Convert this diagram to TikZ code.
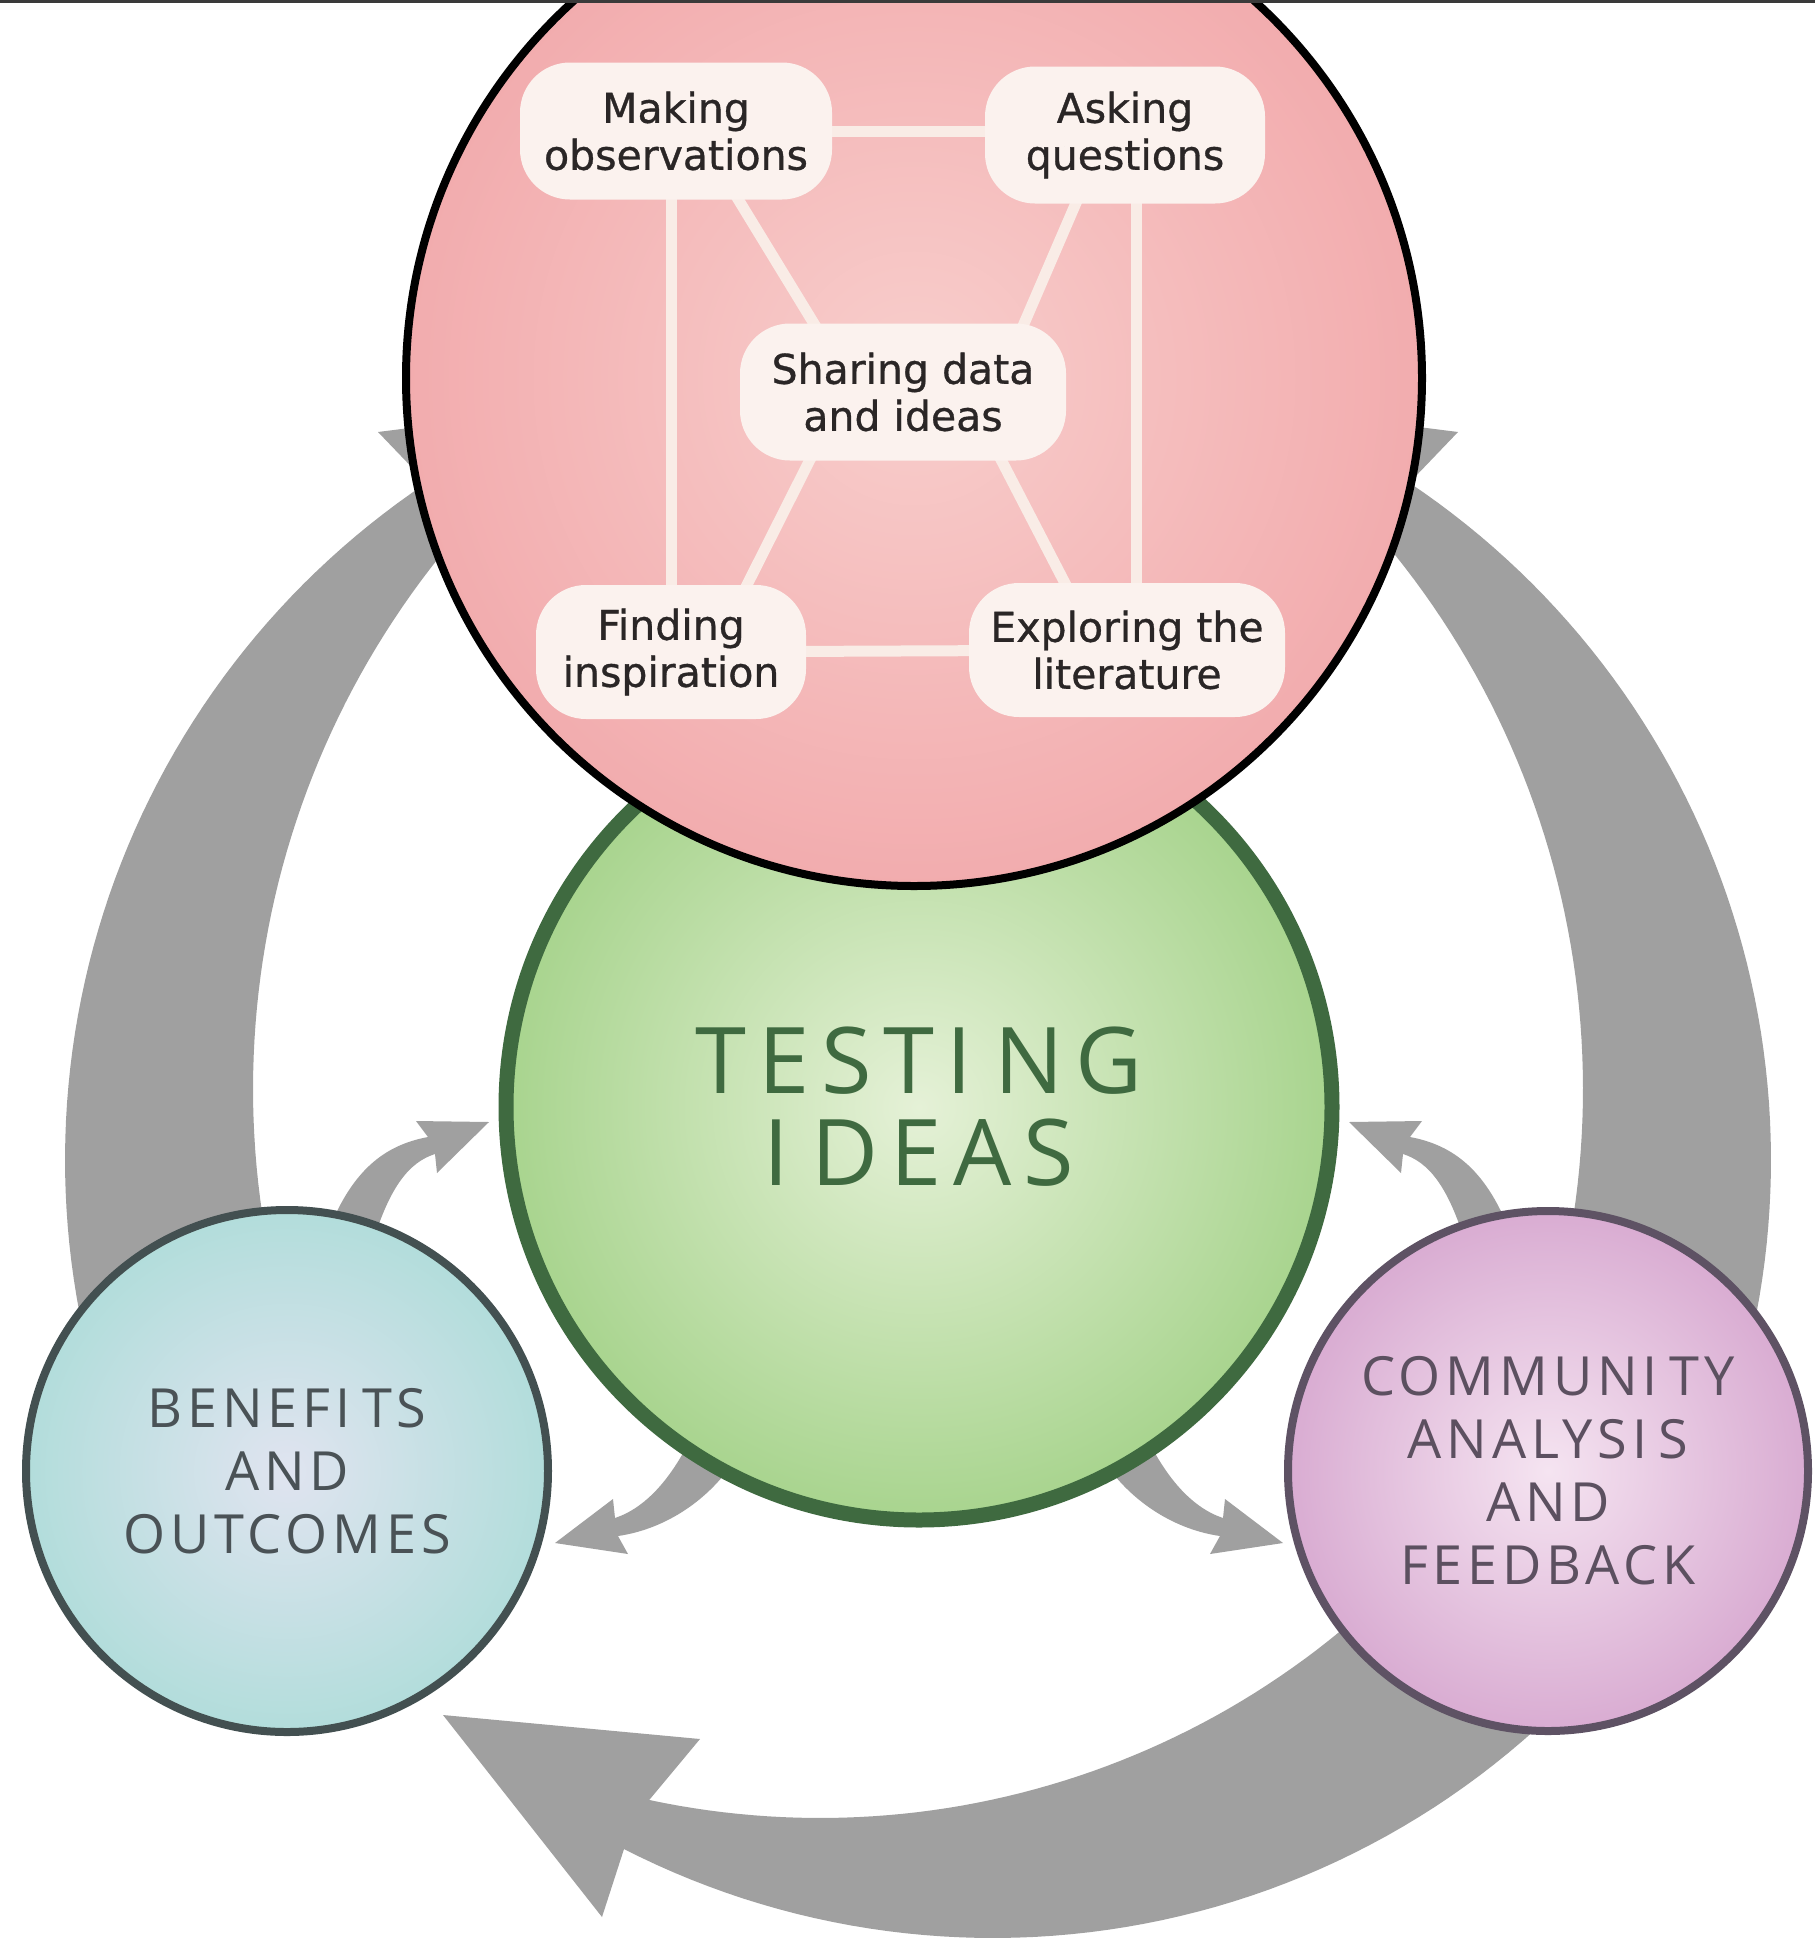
\documentclass[tikz,border=0pt]{standalone}
\usepackage{fontspec}
\usetikzlibrary{calc}
\newfontfamily\insetfont{DejaVu Sans}[FakeBold=0.8]
\newfontfamily\bigfont{Open Sans}[LetterSpace=13]
\newfontfamily\smallfont{Open Sans}[LetterSpace=9]
\newcommand{\Igap}{\kern0.24em}
\newcommand{\Igaps}{\kern0.22em}
\definecolor{arrowgray}{RGB}{160,160,160}
\definecolor{pinkin}{RGB}{248,206,204}
\definecolor{pinkout}{RGB}{242,172,174}
\definecolor{greenin}{RGB}{229,241,215}
\definecolor{greenout}{RGB}{168,212,142}
\definecolor{greenline}{RGB}{63,106,64}
\definecolor{tealin}{RGB}{224,228,240}
\definecolor{tealout}{RGB}{178,221,219}
\definecolor{tealline}{RGB}{67,80,81}
\definecolor{tealtext}{RGB}{74,82,86}
\definecolor{purpin}{RGB}{245,228,241}
\definecolor{purpout}{RGB}{217,172,210}
\definecolor{purpline}{RGB}{94,82,100}
\definecolor{purptext}{RGB}{92,80,96}
\definecolor{boxfill}{RGB}{251,242,238}
\definecolor{linkline}{RGB}{249,236,230}
\definecolor{insettext}{RGB}{42,38,38}
\definecolor{toprule}{RGB}{58,58,58}
\pgfdeclarelayer{back}
\pgfdeclarelayer{front}
\pgfsetlayers{back,main,front}
\tikzset{
  bigcirc/.style={circle, inner sep=0pt, outer sep=0pt, align=center, shade},
  ibox/.style={rectangle, rounded corners=50pt, fill=boxfill, inner sep=0pt, align=center,
    text=insettext, font=\insetfont\fontsize{41}{47}\selectfont},
  link/.style={draw=linkline, line width=11pt},
  garrow/.style={fill=arrowgray},
}
\begin{document}
\begin{tikzpicture}[x=1pt,y=-1pt]
\useasboundingbox (0,0) rectangle (1815,1938);

% circles
\node[bigcirc, minimum size=826pt, line width=15pt, draw=greenline, inner color=greenin, outer color=greenout,
  text=greenline, font=\bigfont\fontsize{92}{92}\selectfont] (ti) at (919,1107) {TESTI\Igap NG\\I\Igap DEAS};
\node[bigcirc, minimum size=1016pt, line width=8pt, draw=black, inner color=pinkin, outer color=pinkout] (pink) at (914,378) {};
\node[bigcirc, minimum size=522pt, line width=8pt, draw=tealline, inner color=tealin, outer color=tealout,
  text=tealtext, font=\smallfont\fontsize{54}{63}\selectfont] (bo) at (287,1471) {BENEFI\Igaps TS\\AND\\OUTCOMES};
\node[bigcirc, minimum size=520pt, line width=8pt, draw=purpline, inner color=purpin, outer color=purpout,
  text=purptext, font=\smallfont\fontsize{54}{63}\selectfont] (caf) at (1548,1471) {COMMUNI\Igaps TY\\ANALYSI\Igaps S\\AND\\FEEDBACK};

% inset boxes
\begin{pgfonlayer}{front}
\node[ibox, minimum width=312pt, minimum height=137pt] (mak) at (676,131) {Making\\observations};
\node[ibox, minimum width=280pt, minimum height=137pt] (ask) at (1125,135) {Asking\\questions};
\node[ibox, minimum width=326pt, minimum height=137pt] (share) at (903,392) {Sharing data\\and ideas};
\node[ibox, minimum width=270pt, minimum height=134pt] (fin) at (671,652) {Finding\\inspiration};
\node[ibox, minimum width=316pt, minimum height=134pt] (exp) at (1127,650) {Exploring the\\literature};
\end{pgfonlayer}

% inset links
\draw[link] (mak.center) -- (mak.center -| ask.center);
\draw[link] (fin.center) -- (exp.center);
\draw[link] (fin.center) -- (fin.center |- mak.center);
\coordinate (rv) at ($(exp.center)+(9,0)$);
\draw[link] (rv) -- (rv |- ask.center);
\draw[link] ($(mak.south)+(52,-17)$) -- ($(share.north)+(-77,20)$);
\draw[link] ($(ask.south)+(-42,-17)$) -- ($(share.north)+(119,5)$);
\draw[link] ($(share.south)+(-91,-5)$) -- ($(fin.north)+(70,12)$);
\draw[link] ($(share.south)+(96,-5)$) -- ($(exp.north)+(-56,12)$);

% arrows
\begin{pgfonlayer}{back}
\fill[white] (0,0) rectangle (1815,1938);
% big left arrow (benefits -> pink)
\fill[garrow] plot[domain=162.9:236.2, samples=60, variable=\t] ({880+815*cos(\t)},{1160+815*sin(\t)})
  -- (378,432) -- (520,414) -- (500,560)
  -- plot[domain=222:158.6, samples=60, variable=\t] ({1106+853*cos(\t)},{1089+853*sin(\t)}) -- cycle;
% big right arrow (community -> pink), mirrored
\begin{scope}[xshift=1836pt, xscale=-1]
\fill[garrow] plot[domain=162.9:236.2, samples=60, variable=\t] ({880+815*cos(\t)},{1160+815*sin(\t)})
  -- (378,432) -- (520,414) -- (500,560)
  -- plot[domain=222:158.6, samples=60, variable=\t] ({1106+853*cos(\t)},{1089+853*sin(\t)}) -- cycle;
\end{scope}
% big bottom arrow (community -> benefits)
\fill[garrow] plot[domain=40:102.05, samples=60, variable=\t] ({820+818*cos(\t)},{1000+818*sin(\t)})
  -- (700,1739) -- (443,1715) -- (602,1917) -- (624,1849)
  -- plot[domain=117.1:40, samples=60, variable=\t] ({993+810*cos(\t)},{1128+810*sin(\t)}) -- cycle;
% small arrow benefits -> testing
\fill[garrow] (325,1240) .. controls (350,1170) and (385,1145) .. (428,1137) -- (416,1121) -- (489,1122)
  -- (437,1173) -- (435,1154) .. controls (410,1162) and (390,1185) .. (372,1245) -- cycle;
% small arrow testing -> benefits
\fill[garrow] (690,1440) .. controls (670,1480) and (645,1508) .. (615,1518) -- (613,1499) -- (555,1543)
  -- (628,1554) -- (618,1536) .. controls (660,1530) and (705,1505) .. (735,1460) -- cycle;
\begin{scope}[xshift=1838pt, xscale=-1]
% small arrow community -> testing
\fill[garrow] (325,1240) .. controls (350,1170) and (385,1145) .. (428,1137) -- (416,1121) -- (489,1122)
  -- (437,1173) -- (435,1154) .. controls (410,1162) and (390,1185) .. (372,1245) -- cycle;
% small arrow testing -> community
\fill[garrow] (690,1440) .. controls (670,1480) and (645,1508) .. (615,1518) -- (613,1499) -- (555,1543)
  -- (628,1554) -- (618,1536) .. controls (660,1530) and (705,1505) .. (735,1460) -- cycle;
\end{scope}
\end{pgfonlayer}

\begin{pgfonlayer}{front}
\fill[toprule] (0,0) rectangle (1815,3);
\end{pgfonlayer}
\end{tikzpicture}
\end{document}
